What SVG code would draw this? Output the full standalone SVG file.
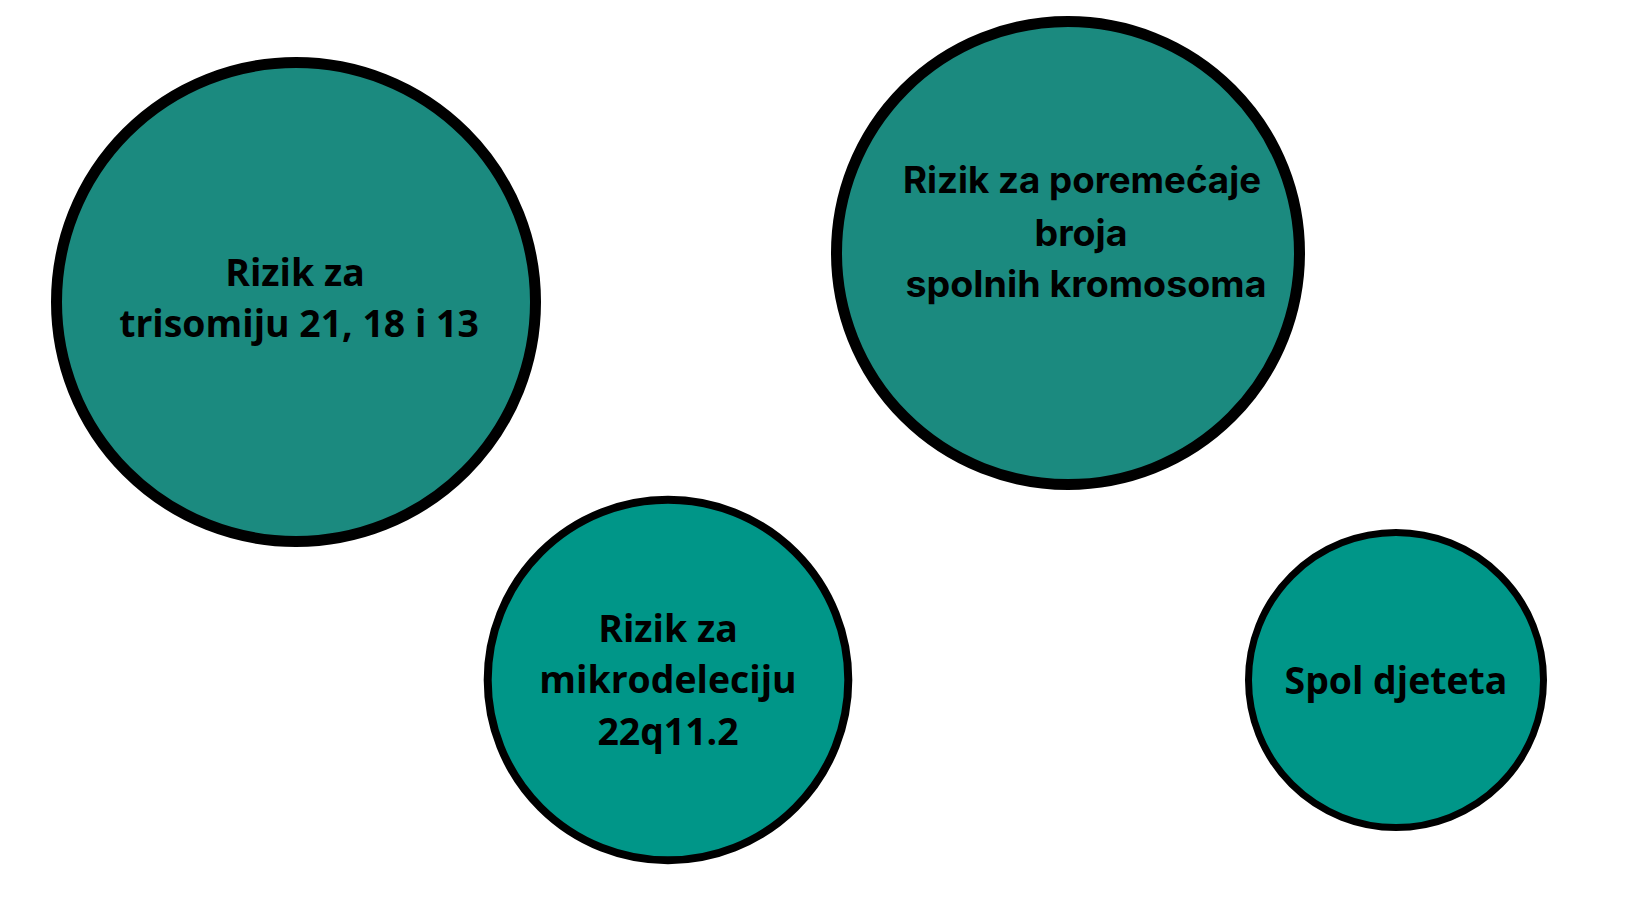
<svg xmlns="http://www.w3.org/2000/svg" width="1640" height="924" viewBox="0 0 1640 924">
<style>
.c1{fill:#1b8a7f;stroke:#000}
.c2{fill:#009688;stroke:#000}
.t{font-family:"Open Sans","Noto Sans",sans-serif;font-weight:700;font-size:37.4px;fill:#000;text-anchor:middle}
.t2{font-family:Inter,"Noto Sans",sans-serif;font-weight:700;font-size:36.5px;fill:#000;text-anchor:middle}
</style>
<rect width="1640" height="924" fill="#fff"/>
<g id="node-trisomija">
<circle class="c1" cx="296" cy="302" r="239.5" stroke-width="11"/>
<text class="t" x="295" y="286">Rizik za</text>
<text class="t" x="299" y="337">trisomiju 21, 18 i 13</text>
</g>
<g id="node-spolni-kromosomi">
<circle class="c1" cx="1068" cy="253" r="231.5" stroke-width="11"/>
<text class="t2" x="1082" y="193" textLength="358" lengthAdjust="spacingAndGlyphs">Rizik za poremećaje</text>
<text class="t2" x="1081" y="246" textLength="93" lengthAdjust="spacingAndGlyphs">broja</text>
<text class="t2" x="1086" y="297" textLength="361" lengthAdjust="spacingAndGlyphs">spolnih kromosoma</text>
</g>
<g id="node-mikrodelecija">
<circle class="c2" cx="668" cy="680" r="180.3" stroke-width="8"/>
<text class="t" x="668" y="642">Rizik za</text>
<text class="t" x="668" y="693">mikrodeleciju</text>
<text class="t" x="668" y="745">22q11.2</text>
</g>
<g id="node-spol">
<circle class="c2" cx="1396" cy="680" r="147.5" stroke-width="7"/>
<text class="t" x="1396" y="694">Spol djeteta</text>
</g>
<g id="connectors"/>
</svg>
